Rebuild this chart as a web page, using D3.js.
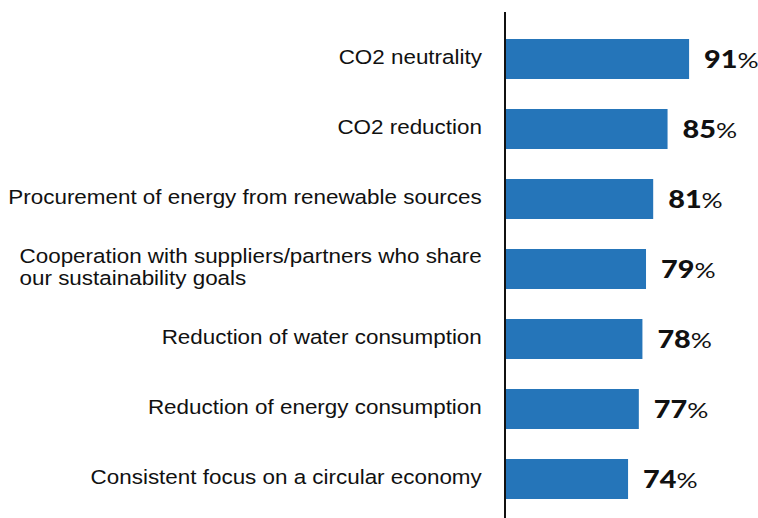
<!DOCTYPE html>
<html><head><meta charset="utf-8">
<script src="https://cdn.jsdelivr.net/npm/d3@7"></script>
<style>body{margin:0;background:#fff}svg{display:block}</style>
</head><body>
<script>
const categories = [
  ["CO2 neutrality"],
  ["CO2 reduction"],
  ["Procurement of energy from renewable sources"],
  ["Cooperation with suppliers/partners who share", "our sustainability goals"],
  ["Reduction of water consumption"],
  ["Reduction of energy consumption"],
  ["Consistent focus on a circular economy"]
];
const values = [91, 85, 81, 79, 78, 77, 74];
const valueSuffix = "%";

const W = 758, H = 518;
const svg = d3.select("body").append("svg").attr("width", W).attr("height", H);

const keys = categories.map(c => c.join(" "));
const data = keys.map((k, i) => ({key: k, lines: categories[i], value: values[i]}));

const x = d3.scaleLinear().domain([40, 100]).range([506, 721.4]);
const y = d3.scaleBand().domain(keys).range([24, 514]).paddingInner(0.4286).paddingOuter(0.2143);

svg.selectAll("rect.bar").data(data).join("rect")
  .attr("class", "bar")
  .attr("x", x(40))
  .attr("y", d => y(d.key))
  .attr("width", d => x(d.value) - x(40))
  .attr("height", y.bandwidth())
  .attr("fill", "#2575b9");

// axis line
svg.append("line").attr("x1", 505).attr("x2", 505).attr("y1", 12).attr("y2", H)
  .attr("stroke", "#111").attr("stroke-width", 2);

// category labels
const font = "'Liberation Sans', Arial, sans-serif";
data.forEach(d => {
  const cy = y(d.key) + y.bandwidth() / 2;
  const n = d.lines.length;
  const g = svg.append("g").attr("class", "lab");
  const texts = d.lines.map((t, j) => g.append("text")
      .attr("y", n === 1 ? 5 : (j === 0 ? -6 : 16))
      .attr("font-family", font)
      .attr("font-size", 19.5)
      .attr("fill", "#111")
      .text(t));
  const maxW = d3.max(texts, t => t.node().getComputedTextLength()) * 1.15;
  g.attr("transform", `translate(${482 - maxW},${cy}) scale(1.15,1)`);
});

// value labels
const vl = svg.selectAll("g.val").data(data).join("g")
  .attr("class", "val")
  .attr("transform", d => `translate(${x(d.value) + 15},${y(d.key) + y.bandwidth() / 2 + 9}) scale(1.2,1)`);
const vt = vl.append("text")
  .attr("font-family", "Lato, 'Open Sans', sans-serif")
  .attr("fill", "#111");
vt.append("tspan").attr("font-weight", 900).attr("font-size", 24).text(d => d.value);
vt.append("tspan").attr("font-weight", 400).attr("font-size", 22).text(valueSuffix);
</script>
</body></html>
